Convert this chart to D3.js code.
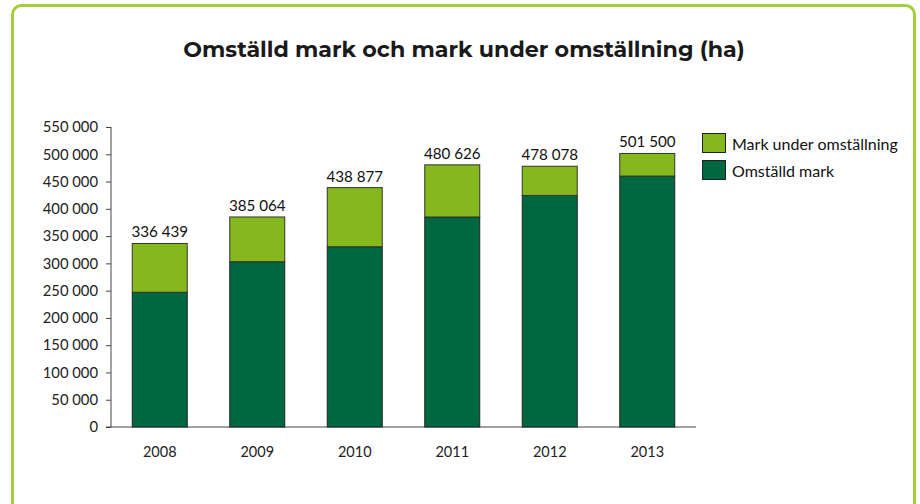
<!DOCTYPE html>
<html><head><meta charset="utf-8">
<script src="https://cdn.jsdelivr.net/npm/d3@7"></script>
<style>body{margin:0;background:#fff;}svg{display:block;}</style>
</head><body>
<svg id="c" width="920" height="504"></svg>
<script>
const years = ["2008","2009","2010","2011","2012","2013"];
const omstalld = [247000, 303000, 330500, 385000, 424500, 460000];
const totals = [336439, 385064, 438877, 480626, 478078, 501500];
const totalLabels = ["336 439","385 064","438 877","480 626","478 078","501 500"];
const yTicks = [0,50000,100000,150000,200000,250000,300000,350000,400000,450000,500000,550000];
const seriesNames = ["Mark under omställning","Omställd mark"];
const colors = {under:"#84b81c", omst:"#006840"};

const svg = d3.select("#c");
// frame
svg.append("rect").attr("x",12.5).attr("y",5.5).attr("width",902).attr("height",520)
  .attr("rx",9).attr("fill","none").attr("stroke","#a4cf3c").attr("stroke-width",3);

svg.append("text").attr("x",464).attr("y",57).attr("text-anchor","middle")
  .attr("font-family","Montserrat, 'Open Sans', Lato, sans-serif").attr("font-weight",700)
  .attr("font-size",22.2).attr("fill","#1a1a1a")
  .text("Omställd mark och mark under omställning (ha)");

const x = d3.scaleBand().domain(years).range([111,696]).paddingInner(0.436).paddingOuter(0.218);
const y = d3.scaleLinear().domain([0,550000]).range([427,127]);

const font = "Lato, Carlito, sans-serif";
const fmt = v => v===0 ? "0" : d3.format(",")(v).replace(/,/g," ");

const yAxis = svg.append("g").attr("transform","translate(111,0)")
  .call(d3.axisLeft(y).tickValues(yTicks).tickSize(5).tickPadding(8).tickFormat(fmt));
yAxis.selectAll("text").attr("font-family",font).attr("font-size",14.8).attr("fill","#222");
yAxis.selectAll("line,path").attr("stroke","#444");
yAxis.select("path").attr("d","M0,127V427");

const xAxis = svg.append("g").attr("transform","translate(0,427)")
  .call(d3.axisBottom(x).tickSize(0).tickPadding(20));
xAxis.select("path").attr("d","M106,0H696").attr("stroke","#444");
xAxis.selectAll("text").attr("font-family",font).attr("font-size",14.5).attr("fill","#222");

const data = years.map((yr,i)=>({yr, om:omstalld[i], tot:totals[i], lab:totalLabels[i]}));
const g = svg.append("g");
g.selectAll("rect.om").data(data).join("rect").attr("class","om")
  .attr("x",d=>x(d.yr)).attr("width",x.bandwidth())
  .attr("y",d=>y(d.om)).attr("height",d=>y(0)-y(d.om))
  .attr("fill",colors.omst).attr("stroke","#222").attr("stroke-width",1);
g.selectAll("rect.un").data(data).join("rect").attr("class","un")
  .attr("x",d=>x(d.yr)).attr("width",x.bandwidth())
  .attr("y",d=>y(d.tot)).attr("height",d=>y(d.om)-y(d.tot))
  .attr("fill",colors.under).attr("stroke","#333").attr("stroke-width",1);
g.selectAll("text.lab").data(data).join("text").attr("class","lab")
  .attr("x",d=>x(d.yr)+x.bandwidth()/2).attr("y",d=>y(d.tot)-6)
  .attr("text-anchor","middle").attr("font-family",font).attr("font-size",15.2).attr("fill","#111")
  .text(d=>d.lab);

// legend
const leg = svg.append("g");
const legColors = [colors.under, colors.omst];
seriesNames.forEach((n,i)=>{
  leg.append("rect").attr("x",702.5).attr("y",133.5+i*27).attr("width",23).attr("height",19)
    .attr("fill",legColors[i]).attr("stroke","#222").attr("stroke-width",1);
  leg.append("text").attr("x",732).attr("y",149.5+i*27).attr("font-family",font)
    .attr("font-size",16).attr("fill","#111").text(n);
});
</script>
</body></html>
